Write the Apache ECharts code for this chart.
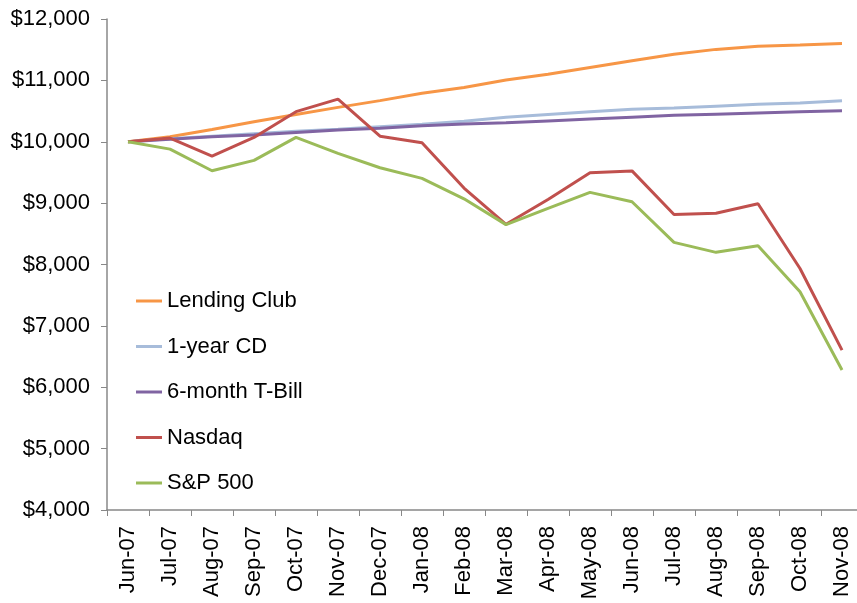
<!DOCTYPE html>
<html>
<head>
<meta charset="utf-8">
<script src="https://cdn.jsdelivr.net/npm/echarts@6/dist/echarts.min.js"></script>
<style>
  html, body { margin: 0; padding: 0; background: #fff; overflow: hidden; }
  /* the plot runs a few pixels past the right edge of the picture */
  #chart { width: 863px; height: 603px; }
</style>
</head>
<body>
<div id="chart"></div>
<script>
const months = ['Jun-07', 'Jul-07', 'Aug-07', 'Sep-07', 'Oct-07', 'Nov-07', 'Dec-07', 'Jan-08', 'Feb-08',
  'Mar-08', 'Apr-08', 'May-08', 'Jun-08', 'Jul-08', 'Aug-08', 'Sep-08', 'Oct-08', 'Nov-08']

const lendingClub = [10000, 10080, 10200, 10325, 10445, 10560, 10670, 10790, 10885,
  11005, 11100, 11210, 11320, 11425, 11505, 11555, 11575, 11600]
const oneYearCD = [10000, 10050, 10090, 10130, 10170, 10205, 10245, 10285, 10335,
  10400, 10445, 10490, 10530, 10550, 10580, 10610, 10630, 10670]
const tBill = [10000, 10040, 10080, 10110, 10150, 10190, 10220, 10260, 10290,
  10310, 10340, 10370, 10400, 10430, 10450, 10470, 10490, 10505]
const nasdaq = [10000, 10060, 9765, 10070, 10490, 10695, 10090, 9985, 9245,
  8655, 9060, 9495, 9525, 8815, 8835, 8990, 7935, 6605]
const sp500 = [10000, 9880, 9528, 9697, 10071, 9810, 9576, 9403, 9070,
  8650, 8915, 9175, 9022, 8361, 8198, 8306, 7556, 6281]

const yTicks = { min: 4000, max: 12000, step: 1000 }

const chart = echarts.init(document.getElementById('chart'))

const makeLine = (name, data, color) => ({
  name,
  type: 'line',
  data,
  showSymbol: false,
  symbol: 'none',
  lineStyle: { color, width: 3 },
  itemStyle: { color },
  animation: false,
})

const font = 'Liberation Sans, Arial, sans-serif'

chart.setOption({
  backgroundColor: '#fff',
  textStyle: { fontFamily: font },
  grid: { left: 107, top: 19, right: 0, bottom: 93, containLabel: false },
  legend: {
    orient: 'vertical',
    left: 131,
    top: 285,
    icon: 'rect',
    itemWidth: 26,
    itemHeight: 3,
    itemGap: 23.5,
    textStyle: { fontSize: 22, color: '#000', fontFamily: font },
    data: ['Lending Club', '1-year CD', '6-month T-Bill', 'Nasdaq', 'S&P 500'],
  },
  xAxis: {
    type: 'category',
    data: months,
    boundaryGap: true,
    axisLine: { lineStyle: { color: '#888', width: 1.5 } },
    axisTick: { show: true, length: 6, lineStyle: { color: '#888' } },
    axisLabel: {
      rotate: 90,
      margin: 16,
      fontSize: 22,
      color: '#000',
      interval: 0,
    },
    splitLine: { show: false },
  },
  yAxis: {
    type: 'value',
    min: yTicks.min,
    max: yTicks.max,
    interval: yTicks.step,
    axisLine: { show: true, lineStyle: { color: '#888', width: 1.5 } },
    axisTick: { show: true, length: 6, lineStyle: { color: '#888' } },
    axisLabel: {
      margin: 17,
      fontSize: 22,
      color: '#000',
      formatter: (v) => '$' + v.toLocaleString('en-US'),
    },
    splitLine: { show: false },
  },
  series: [
    makeLine('Lending Club', lendingClub, '#F79646'),
    makeLine('1-year CD', oneYearCD, '#A7BCDA'),
    makeLine('6-month T-Bill', tBill, '#8064A2'),
    makeLine('Nasdaq', nasdaq, '#C0504D'),
    makeLine('S&P 500', sp500, '#9BBB59'),
  ],
})
</script>
</body>
</html>
